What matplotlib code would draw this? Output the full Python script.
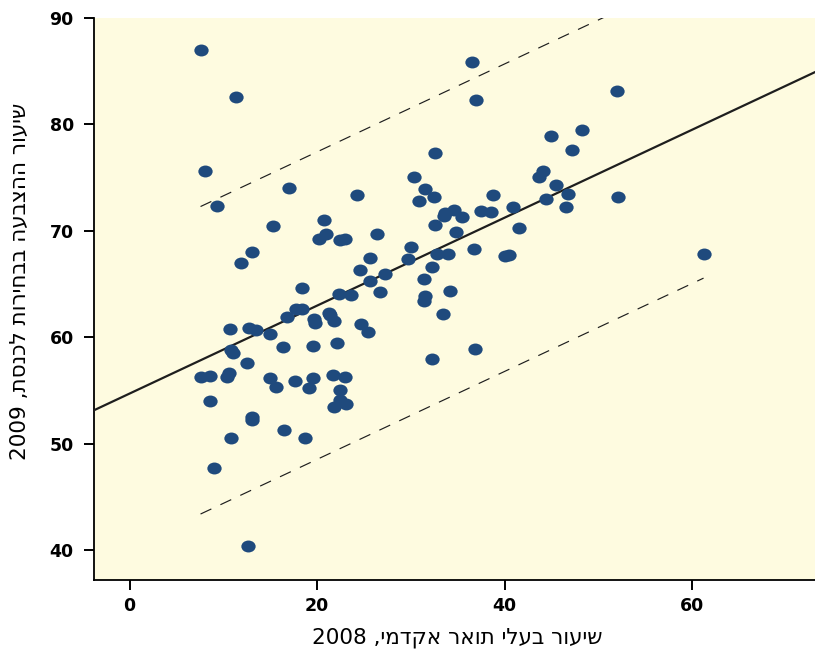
import re
import numpy as np
import matplotlib
matplotlib.use('Agg')
import matplotlib.pyplot as plt
from matplotlib.path import Path
from matplotlib.transforms import Affine2D

# share of academic degree holders 2008 (x) vs turnout 2009 (y)
degree_2008 = [7.57, 11.31, 8.07, 9.31, 16.99, 24.29, 15.29, 20.77, 20.98, 20.19,
               22.40, 22.97, 13.09, 11.91, 25.60, 24.61, 18.42, 22.29, 23.61, 25.60,
               16.82, 17.78, 18.35, 19.70, 19.81, 21.26, 21.33, 21.79, 24.67, 25.39,
               10.70, 12.69, 13.51, 15.01, 10.81, 11.02, 12.51, 16.32, 19.59, 22.08,
               7.57, 8.61, 10.56, 10.42, 15.01, 15.57, 17.60, 19.52, 21.69, 23.01,
               19.09, 22.40, 22.47, 23.11, 21.79, 8.61, 13.01, 13.01, 10.77, 16.50,
               18.70, 8.96, 12.62,
               36.48, 36.98, 32.61, 30.29, 31.50, 30.90, 32.50, 38.79, 40.89, 37.51,
               38.58, 34.59, 33.67, 33.49, 35.41, 32.61, 34.77, 41.53, 26.38, 29.97,
               29.69, 32.78, 33.92, 36.69, 40.07, 40.50, 27.27, 32.29, 31.39, 26.67,
               31.50, 31.39, 34.17, 33.39, 36.87, 32.29,
               51.98, 44.91, 48.18, 47.18, 44.09, 43.70, 45.41, 46.79, 44.37, 46.51,
               52.09, 61.19]
turnout_2009 = [86.96, 82.55, 75.65, 72.36, 74.05, 73.36, 70.45, 71.04, 69.67, 69.23,
                69.14, 69.26, 68.04, 66.95, 67.44, 66.34, 64.65, 64.06, 63.94, 65.31,
                61.87, 62.65, 62.65, 61.68, 61.36, 62.25, 62.06, 61.55, 61.27, 60.46,
                60.74, 60.86, 60.68, 60.33, 58.80, 58.54, 57.55, 59.05, 59.14, 59.45,
                56.23, 56.33, 56.66, 56.23, 56.14, 55.35, 55.86, 56.14, 56.45, 56.23,
                55.23, 55.04, 54.10, 53.75, 53.44, 54.03, 52.53, 52.25, 50.55, 51.25,
                50.55, 47.73, 40.35,
                85.84, 82.32, 77.34, 75.06, 73.96, 72.83, 73.15, 73.36, 72.27, 71.83,
                71.74, 71.95, 71.70, 71.39, 71.27, 70.55, 69.86, 70.26, 69.67, 68.45,
                67.32, 67.85, 67.85, 68.26, 67.66, 67.73, 65.94, 66.63, 65.44, 64.25,
                63.87, 63.43, 64.34, 62.15, 58.92, 57.92,
                83.14, 78.94, 79.45, 77.57, 75.65, 75.08, 74.33, 73.46, 72.96, 72.27,
                73.15, 67.85]

# regression line and prediction band
fit_intercept = 54.7
fit_slope = 0.4135
band_halfwidth = 14.45

x_ticks = [0, 20, 40, 60]
y_ticks = [40, 50, 60, 70, 80, 90]
x_title = 'שיעור בעלי תואר אקדמי, 2008'
y_title = 'שיעור ההצבעה בבחירות לכנסת, 2009'


def rtl(s):
    # matplotlib has no bidi support: reverse, then put digit runs back
    r = s[::-1]
    return re.sub(r'\d+', lambda m: m.group(0)[::-1], r)


x = np.array(degree_2008)
y = np.array(turnout_2009)

fig = plt.figure(figsize=(8.15, 6.49), dpi=100)
ax = fig.add_axes([93.5/815, 69/649, 1 - 93.5/815, 562/649])
ax.set_facecolor('#fefbe0')

xx = np.array([-3.9, 73.1])
ax.plot(xx, fit_intercept + fit_slope*xx, color='#1e1e1e', lw=1.6, zorder=3)

xb = np.linspace(x.min(), x.max(), 50)
lw_d = 0.85
ax.plot(xb, fit_intercept + fit_slope*xb + band_halfwidth, color='#1e1e1e', lw=lw_d,
        linestyle=(0, (8.6/lw_d, 7.2/lw_d)), zorder=3)
ax.plot(xb, fit_intercept + fit_slope*xb - band_halfwidth, color='#1e1e1e', lw=lw_d,
        linestyle=(0, (8.6/lw_d, 7.2/lw_d)), zorder=3)

ell = Path.unit_circle().transformed(Affine2D().scale(1.2, 1.0))
ax.plot(x, y, linestyle='none', marker=ell, markersize=10.3, color='#1f4a7d',
        markeredgewidth=0, zorder=4)

ax.set_xlim(-3.84, 73.07)
ax.set_ylim(37.18, 90.0)
ax.set_xticks(x_ticks)
ax.set_yticks(y_ticks)
for s in ['top', 'right']:
    ax.spines[s].set_visible(False)
for s in ['left', 'bottom']:
    ax.spines[s].set_linewidth(1.3)
ax.tick_params(length=7.2, width=1.4)
ax.tick_params(axis='x', pad=5)
ax.tick_params(axis='y', pad=7)
for t in ax.get_xticklabels() + ax.get_yticklabels():
    t.set_family('DejaVu Sans')
    t.set_fontsize(12.5)
    t.set_fontweight('bold')

fig.text(457/815, 1 - 638/649, rtl(x_title), ha='center', va='center', fontsize=15.5)
fig.text(20/815, 1 - 281/649, rtl(y_title), ha='center', va='center', fontsize=15.5,
         rotation=90)

fig.savefig('out.png', dpi=100)
